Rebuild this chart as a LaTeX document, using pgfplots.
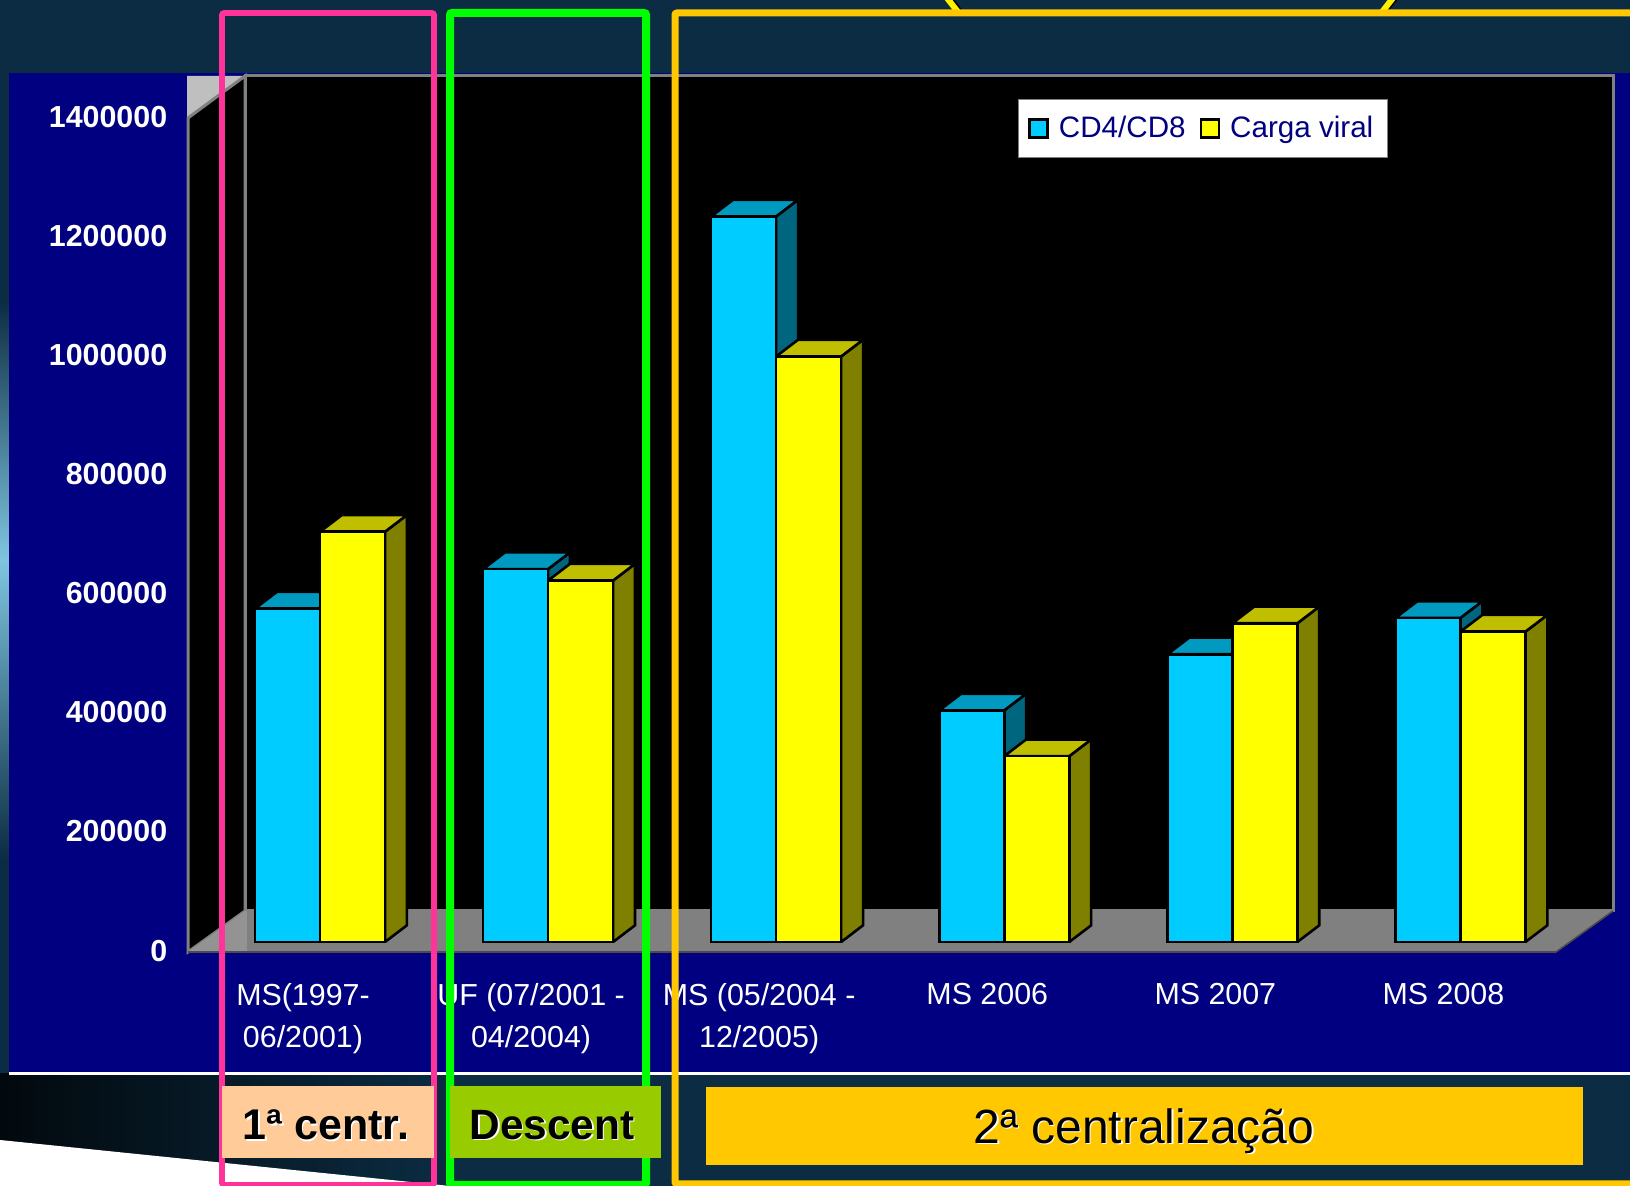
\documentclass[border=0pt]{standalone}
\usepackage{fontspec}
\setmainfont{Liberation Sans}
\usepackage{pgfplots}
\pgfplotsset{compat=1.18}

\definecolor{navyback}{HTML}{000080}
\definecolor{slideback}{HTML}{0B2C42}
\definecolor{cyanbar}{HTML}{00CCFF}
\definecolor{cyantop}{HTML}{0099BF}
\definecolor{cyanside}{HTML}{006680}
\definecolor{yellowbar}{HTML}{FFFF00}
\definecolor{yellowtop}{HTML}{BFBF00}
\definecolor{yellowside}{HTML}{808000}
\definecolor{pinkbox}{HTML}{FF3399}
\definecolor{greenbox}{HTML}{00FF00}
\definecolor{amberbox}{HTML}{FFC800}
\definecolor{peachfill}{HTML}{FFCC99}
\definecolor{limefill}{HTML}{99CC00}
\definecolor{glow}{HTML}{7FC5E0}

% depth of the 3d bars in axis units
\def\dx{0.096}
\def\dy{28000}
% side and top face: left x, right x, value, colour prefix
\newcommand{\faces}[4]{%
  \addplot[draw=black,line width=1.3pt,fill=#4side,forget plot] coordinates
    {(#2,0) ({#2+\dx},\dy) ({#2+\dx},{#3+\dy}) (#2,#3) (#2,0)};
  \addplot[draw=black,line width=1.3pt,fill=#4top,forget plot] coordinates
    {(#1,#3) (#2,#3) ({#2+\dx},{#3+\dy}) ({#1+\dx},{#3+\dy}) (#1,#3)};
}
\newcommand{\shadowtext}[4]{%
  \node[white,font=#4] at (#1+1.5,#2+1.5) {#3};
  \node[black,font=#4] at (#1,#2) {#3};
}

\begin{document}
\begin{tikzpicture}
\useasboundingbox (0,0) rectangle (815pt,-593pt);
\clip (0,0) rectangle (815pt,-593pt);

% slide background and the chart frame, in reference pixels
\begin{scope}[x=0.5pt,y=-0.5pt]
  \fill[slideback] (0,0) rectangle (1630,1186);
  \shade[left color=black!80!slideback,right color=slideback] (0,1074) rectangle (450,1186);
  \shade[top color=slideback,bottom color=glow] (0,300) rectangle (9,560);
  \shade[top color=glow,bottom color=slideback] (0,560) rectangle (9,860);
  \fill[white] (0,1140) -- (450,1186) -- (0,1186) -- cycle;
  \fill[navyback] (9,73) rectangle (1630,1072);
  \draw[white,line width=1.2pt] (9,1073.5) -- (1630,1073.5);
  % walls and floor
  \fill[black!25!white] (187,76) -- (245,76) -- (187,118) -- cycle;
  \draw[gray,line width=1.5pt,fill=black] (245,76) rectangle (1613,911);
  \draw[gray,line width=1.5pt,fill=black] (188,118) -- (245,76) -- (245,911) -- (188,952) -- cycle;
  \fill[gray!85!white] (188,952) -- (247,952) -- (247,911) -- (245,911) -- cycle;
  \fill[gray] (247,952) -- (1556,952) -- (1613,911) -- (247,911) -- cycle;
  \draw[black!70,line width=.8pt] (188,952) -- (1556,952) -- (1613,911);
  \draw[black,line width=3pt] (949,-2) -- (960,12);
  \draw[black,line width=3pt] (1395,-2) -- (1384,12);
  \draw[yellow,line width=3pt] (947,-2) -- (958,12);
  \draw[yellow,line width=3pt] (1393,-2) -- (1382,12);
\end{scope}

\begin{axis}[
  at={(94pt,-471pt)}, anchor=south west,
  scale only axis, width=684pt, height=417pt,
  xmin=-0.5787, xmax=5.419, ymin=0, ymax=1400000,
  clip=false,
  axis line style={draw=none}, major tick length=0pt,
  xtick={0,1,2,3,4,5},
  xticklabels={{MS(1997-\\06/2001)},{UF (07/2001 -\\04/2004)},{MS (05/2004 -\\12/2005)},MS 2006,MS 2007,MS 2008},
  xticklabel style={white,font=\fontsize{15.2}{21}\selectfont,align=center,anchor=north,inner sep=0pt,xshift=-8.5pt,yshift=-20.6pt},
  ytick={0,200000,400000,600000,800000,1000000,1200000,1400000},
  scaled y ticks=false,
  /pgf/number format/assume math mode=true,
  /pgf/number format/1000 sep={},
  /pgf/number format/fixed,
  yticklabel style={white,font=\bfseries\fontsize{15.2}{18}\selectfont,anchor=east,inner sep=0pt,xshift=-10.2pt,yshift=-4.3pt},
  legend columns=2,
  legend style={at={(0.6067,1.0108)},anchor=north west,draw=gray,fill=white,text=navyback,
    font=\fontsize{14.8}{17}\selectfont,inner xsep=5pt,inner ysep=6.3pt,
    /tikz/column 1/.style={column sep=3pt},
    /tikz/column 2/.style={column sep=5pt},
    /tikz/column 3/.style={column sep=3pt}},
  legend image code/.code={\draw[#1,line width=1.3pt] (0pt,-4.5pt) rectangle (9pt,4.5pt);},
]
% CD4/CD8 side and top faces
\faces{-0.285}{0}{559700}{cyan}
\faces{0.715}{1}{626000}{cyan}
\faces{1.715}{2}{1218000}{cyan}
\faces{2.715}{3}{388800}{cyan}
\faces{3.715}{4}{483000}{cyan}
\faces{4.715}{5}{544000}{cyan}
\addplot[ybar,bar width=32.5pt,bar shift=-16.25pt,draw=black,line width=1.3pt,fill=cyanbar]
  coordinates {(0,559700) (1,626000) (2,1218000) (3,388800) (4,483000) (5,544000)};
\addlegendentry{CD4/CD8}
% Carga viral side and top faces
\faces{0}{0.285}{688700}{yellow}
\faces{1}{1.285}{606800}{yellow}
\faces{2}{2.285}{983000}{yellow}
\faces{3}{3.285}{312000}{yellow}
\faces{4}{4.285}{535000}{yellow}
\faces{5}{5.285}{521000}{yellow}
\addplot[ybar,bar width=32.5pt,bar shift=16.25pt,draw=black,line width=1.3pt,fill=yellowbar]
  coordinates {(0,688700) (1,606800) (2,983000) (3,312000) (4,535000) (5,521000)};
\addlegendentry{Carga viral}
\end{axis}

% period boxes on top of the chart
\begin{scope}[x=0.5pt,y=-0.5pt]
  \draw[pinkbox,line width=2.8pt,rounded corners=1pt] (222,13) rectangle (434,1185);
  \draw[greenbox,line width=4pt,rounded corners=1pt] (450,13) rectangle (646,1185);
  \draw[amberbox,line width=3.5pt,rounded corners=1pt] (675,13) rectangle (1650,1184);
  \fill[peachfill] (222,1086) rectangle (434,1158);
  \fill[limefill] (450,1086) rectangle (661,1158);
  \fill[amberbox] (706,1087) rectangle (1583,1165);
  \shadowtext{326}{1125}{1ª centr.}{\bfseries\fontsize{21.5}{24}\selectfont}
  \shadowtext{552}{1125}{Descent}{\bfseries\fontsize{21.2}{24}\selectfont}
  \shadowtext{1144}{1131}{2ª centralização}{\fontsize{24}{28}\selectfont}
\end{scope}
\end{tikzpicture}
\end{document}
